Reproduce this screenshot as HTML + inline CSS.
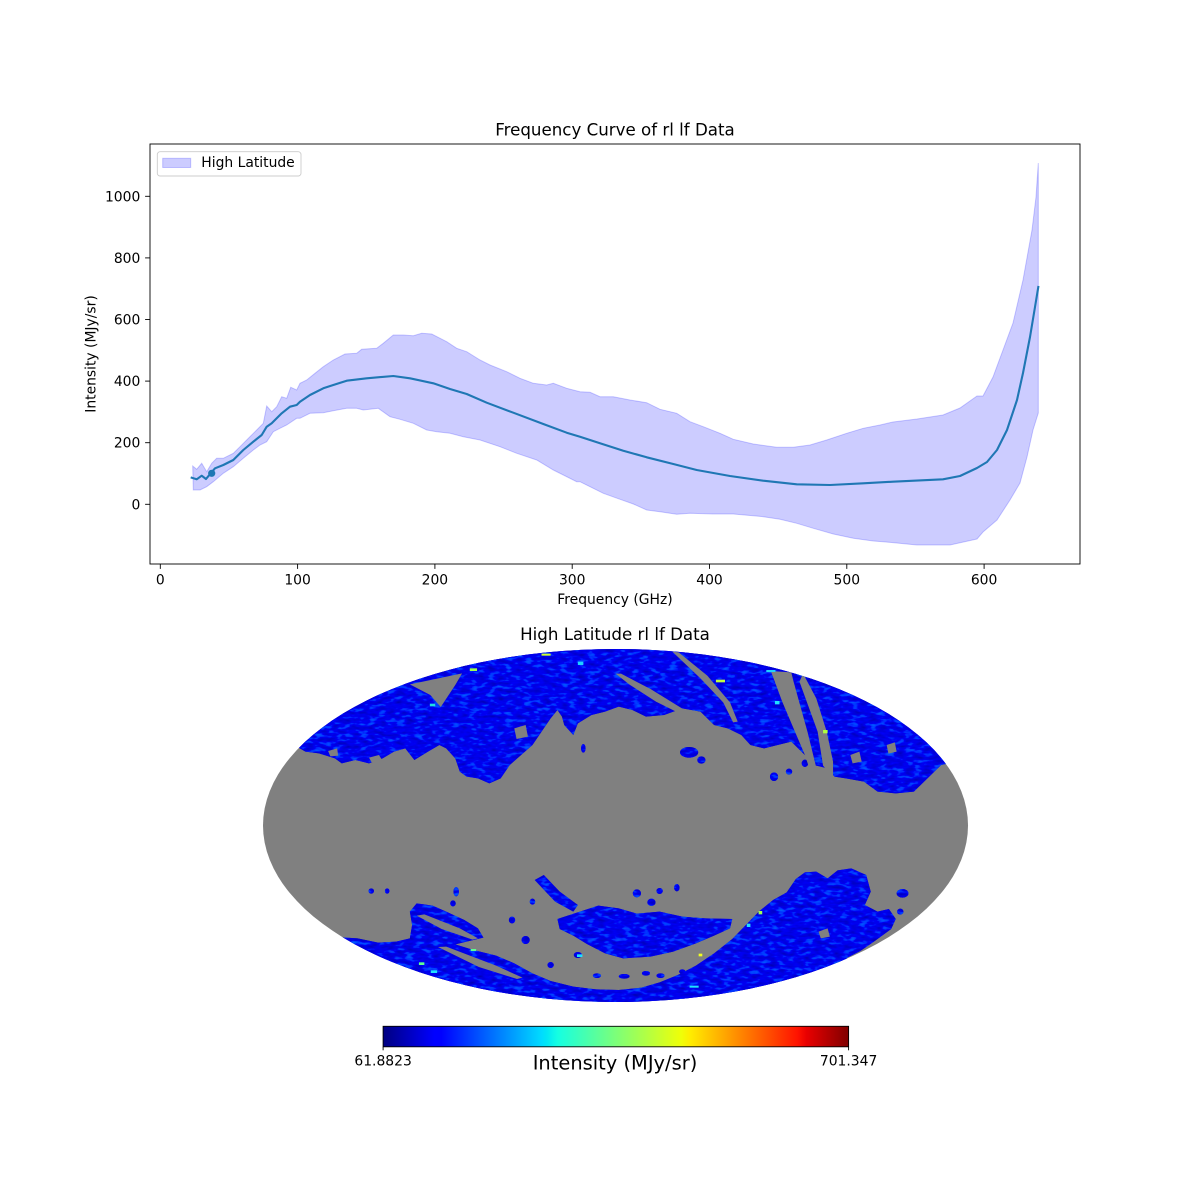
<!DOCTYPE html>
<html>
<head>
<meta charset="utf-8">
<style>
html,body{margin:0;padding:0;background:#fff;}
svg{display:block;}
text{font-family:"DejaVu Sans","Liberation Sans",sans-serif;fill:#000;}
</style>
</head>
<body>
<svg width="1200" height="1200" viewBox="0 0 1200 1200" xmlns="http://www.w3.org/2000/svg">
<defs>
  <linearGradient id="jet" x1="0" y1="0" x2="1" y2="0">
    <stop offset="0" stop-color="#000080"/>
    <stop offset="0.11" stop-color="#0000ff"/>
    <stop offset="0.125" stop-color="#0000ff"/>
    <stop offset="0.34" stop-color="#00dbff"/>
    <stop offset="0.35" stop-color="#00e5f6"/>
    <stop offset="0.375" stop-color="#15ffe2"/>
    <stop offset="0.5" stop-color="#7cff79"/>
    <stop offset="0.64" stop-color="#efff08"/>
    <stop offset="0.66" stop-color="#ffec00"/>
    <stop offset="0.89" stop-color="#ff1300"/>
    <stop offset="0.91" stop-color="#e80000"/>
    <stop offset="1" stop-color="#800000"/>
  </linearGradient>
</defs>

<!-- ===== Top chart ===== -->
<text x="615" y="135.7" font-size="16.67" text-anchor="middle">Frequency Curve of rl lf Data</text>

<path fill="rgba(0,0,255,0.2)" stroke="rgba(0,0,255,0.2)" stroke-width="1" d="M192.7,466 L196.7,469.3 L201.7,463.3 L206.7,471.7 L211.7,463.3 L216.7,458.3 L223.3,458.3 L233.3,453.3 L240,446.7 L246.7,440 L256.7,430 L263.3,423.3 L266.7,406 L271.7,411.7 L276.7,406.7 L281.7,396.7 L286.7,398.3 L290.7,387.3 L296.7,390 L300,383.3 L306.7,380 L315,373.3 L323.3,366.7 L333.3,360 L345,354 L356.7,353.3 L361.7,349.3 L376.7,348.3 L383.3,343.3 L393.3,335 L403.3,335 L413.3,335.7 L421.7,333.3 L431.7,334 L446.7,341.7 L456.7,348.3 L466.7,351.7 L480,360 L490,365 L506.7,371.7 L520,378.3 L533.3,383.3 L546.7,385 L553.3,383.3 L566.7,388.3 L580,391.7 L590,392.3 L600,396.7 L613.3,396.7 L630,400 L646.7,402.7 L660,409.3 L676.7,413.3 L690,421.7 L703.3,426.7 L720,433.3 L733.3,439.3 L753.3,444 L776.7,447.3 L793.3,447.3 L810,445 L826.7,440 L846.7,433.3 L863.3,428.3 L880,425 L893,422 L917,419 L943,415 L960,408 L977,396 L983,396 L993,377 L1003,350 L1013,323 L1023,280 L1032,230 L1036,197 L1038.3,163 L1038.3,413 L1033,430 L1027,457 L1020,483 L1010,500 L997,520 L983,532 L977,539 L950,545 L917,545 L883,541.7 L873.3,541 L853.3,538.3 L833.3,534 L813.3,528.3 L796.7,523.3 L780,519.3 L763.3,516.7 L733.3,514 L713.3,514 L690,513.3 L676.7,514.3 L660,511.7 L646.7,510 L633.3,504 L620,499.3 L603.3,493.3 L590,486.7 L580,481.7 L576.7,481.7 L553.3,470 L536.7,460 L516.7,453.3 L500,446.7 L480,440 L463.3,436.7 L450,433.3 L436.7,431.7 L426.7,430 L413.3,423.3 L400,419.3 L390,416.7 L378.3,408.3 L363.3,410 L356.7,408.3 L346.7,408.3 L333.3,410.7 L323.3,412.7 L310,413.3 L300,418.3 L296.7,418.3 L286.7,425 L280,428.3 L273.3,431.7 L266.7,441.7 L260,445 L253.3,450 L243.3,458.3 L233.3,466.7 L223.3,473.3 L213.3,481.7 L206.7,486.7 L200,490 L193.3,490 Z"/>

<polyline fill="none" stroke="#1f77b4" stroke-width="2.1" stroke-linejoin="round" stroke-linecap="square" points="191.7,477.7 196.7,479.3 201.7,475.7 206,479 210.7,473.3 215,468.3 223.3,465 233.3,460 243.3,450 253.3,441.7 261.7,435 266.7,426.7 271.7,423.3 276.7,418.3 281.7,413.3 290,406.7 296.7,405 300,401.7 310,395 323.3,388.3 333.3,385 346.7,380.7 366.7,378.3 393.3,376 410,378.3 433.3,383.3 450,389 466.7,394 486.7,402.7 513.3,412.7 543.3,424 566.7,432.7 580,436.7 600,443.3 623.3,450.7 646.7,457.3 673.3,464 696.7,470 730,476 763.3,480.7 796.7,484.3 830,485 863.3,483.3 893,481.7 943,479.3 960,476 977,468 987,462 997,450 1007,430 1017,400 1023,373 1030,337 1035,307 1038.3,287"/>
<circle cx="211.7" cy="473.3" r="3.6" fill="#1f77b4"/>

<rect x="150" y="144" width="930" height="420" fill="none" stroke="#000" stroke-width="0.9"/>

<g stroke="#000" stroke-width="0.9">
  <line x1="145.1" y1="504.3" x2="150" y2="504.3"/>
  <line x1="145.1" y1="442.7" x2="150" y2="442.7"/>
  <line x1="145.1" y1="381.1" x2="150" y2="381.1"/>
  <line x1="145.1" y1="319.5" x2="150" y2="319.5"/>
  <line x1="145.1" y1="257.9" x2="150" y2="257.9"/>
  <line x1="145.1" y1="196.3" x2="150" y2="196.3"/>
</g>
<g font-size="13.89" text-anchor="end">
  <text x="140.3" y="509.3">0</text>
  <text x="140.3" y="447.7">200</text>
  <text x="140.3" y="386.1">400</text>
  <text x="140.3" y="324.5">600</text>
  <text x="140.3" y="262.9">800</text>
  <text x="140.3" y="201.3">1000</text>
</g>

<g stroke="#000" stroke-width="0.9">
  <line x1="160.3" y1="564" x2="160.3" y2="568.9"/>
  <line x1="297.6" y1="564" x2="297.6" y2="568.9"/>
  <line x1="434.9" y1="564" x2="434.9" y2="568.9"/>
  <line x1="572.2" y1="564" x2="572.2" y2="568.9"/>
  <line x1="709.5" y1="564" x2="709.5" y2="568.9"/>
  <line x1="846.8" y1="564" x2="846.8" y2="568.9"/>
  <line x1="984.1" y1="564" x2="984.1" y2="568.9"/>
</g>
<g font-size="13.89" text-anchor="middle">
  <text x="160.3" y="584.5">0</text>
  <text x="297.6" y="584.5">100</text>
  <text x="434.9" y="584.5">200</text>
  <text x="572.2" y="584.5">300</text>
  <text x="709.5" y="584.5">400</text>
  <text x="846.8" y="584.5">500</text>
  <text x="984.1" y="584.5">600</text>
</g>

<text x="615" y="604" font-size="13.89" text-anchor="middle">Frequency (GHz)</text>
<text transform="translate(95.5,354) rotate(-90)" font-size="13.89" text-anchor="middle">Intensity (MJy/sr)</text>

<rect x="157.3" y="151.7" width="143.7" height="24.3" rx="2.8" ry="2.8" fill="rgba(255,255,255,0.8)" stroke="#cccccc" stroke-width="0.9"/>
<rect x="162.7" y="158.3" width="28" height="9.2" fill="rgba(0,0,255,0.2)" stroke="rgba(0,0,255,0.2)" stroke-width="1"/>
<text x="201.3" y="167.2" font-size="13.89">High Latitude</text>

<!-- ===== Map ===== -->
<text x="615" y="640" font-size="16.67" text-anchor="middle">High Latitude rl lf Data</text>

<g transform="translate(260,645) scale(0.454092,0.333333)">
  <defs>
    <filter id="nz" filterUnits="userSpaceOnUse" x="-20" y="-20" width="1620" height="1240">
      <feTurbulence type="fractalNoise" baseFrequency="0.05 0.09" numOctaves="2" seed="7"/>
      <feColorMatrix type="matrix" values="0 0 0 0 0  0.35 0 0 0 -0.2  1.0 0 0 0 0.35  0 0 0 0 1"/>
    </filter>
    <clipPath id="ell"><ellipse cx="782.9" cy="541.5" rx="776.3" ry="529.5"/></clipPath>
    <clipPath id="blue">
      <path d="M-20,-20 L1600,-20 L1600,330 L1500,360 L1470,400 L1440,440 L1400,445 L1360,440 L1330,410 L1290,400 L1265,395 L1250,370 L1220,360 L1200,330 L1170,290 L1140,300 L1110,310 L1080,300 L1060,270 L1030,250 L1000,240 L970,200 L930,190 L890,210 L850,215 L820,195 L790,185 L760,200 L730,210 L700,235 L690,270 L670,240 L665,215 L655,195 L640,220 L625,250 L600,300 L575,330 L550,360 L530,400 L505,415 L480,400 L455,395 L440,380 L430,340 L410,310 L395,300 L370,320 L340,345 L320,310 L295,320 L270,340 L240,355 L210,345 L180,355 L165,340 L130,325 L100,320 L75,300 L50,290 L-20,280 Z"/>
      <path d="M-20,860 L215,880 L260,893 L300,890 L330,880 L335,840 L330,800 L345,775 L380,782 L410,800 L450,825 L480,850 L492,878 L455,890 L430,898 L470,915 L520,932 L560,955 L600,985 L640,1008 L690,1025 L740,1033 L790,1035 L840,1028 L880,1012 L920,990 L960,962 L1000,925 L1040,882 L1070,840 L1100,798 L1130,765 L1160,742 L1180,702 L1200,682 L1225,680 L1250,700 L1272,676 L1302,670 L1335,690 L1345,740 L1332,780 L1360,800 L1385,792 L1400,822 L1390,852 L1352,890 L1322,918 L1290,940 L1600,950 L1600,1200 L-20,1200 Z"/>
      <path d="M655,822 L700,802 L745,782 L790,790 L830,806 L880,800 L930,815 L980,820 L1040,822 L1035,850 L1000,872 L960,895 L910,920 L860,935 L800,940 L760,925 L720,897 L690,872 L660,852 Z"/>
      <path d="M605,705 L625,690 L660,740 L700,780 L690,800 L650,770 Z"/>
      <path d="M1172,110 L1188,110 L1228,260 L1240,360 L1224,362 L1206,262 Z"/>
      <ellipse cx="245" cy="738" rx="6" ry="8"/>
      <ellipse cx="280" cy="738" rx="5" ry="8"/>
      <ellipse cx="432" cy="740" rx="6" ry="14"/>
      <ellipse cx="425" cy="775" rx="6" ry="9"/>
      <ellipse cx="555" cy="825" rx="7" ry="10"/>
      <ellipse cx="585" cy="885" rx="9" ry="12"/>
      <ellipse cx="600" cy="770" rx="6" ry="9"/>
      <ellipse cx="640" cy="960" rx="7" ry="9"/>
      <ellipse cx="700" cy="930" rx="9" ry="9"/>
      <ellipse cx="742" cy="992" rx="9" ry="7"/>
      <ellipse cx="802" cy="994" rx="12" ry="7"/>
      <ellipse cx="850" cy="985" rx="9" ry="7"/>
      <ellipse cx="882" cy="992" rx="9" ry="7"/>
      <ellipse cx="930" cy="980" rx="7" ry="7"/>
      <ellipse cx="830" cy="745" rx="9" ry="12"/>
      <ellipse cx="880" cy="738" rx="7" ry="9"/>
      <ellipse cx="918" cy="728" rx="6" ry="11"/>
      <ellipse cx="862" cy="772" rx="9" ry="11"/>
      <ellipse cx="1415" cy="745" rx="13" ry="13"/>
      <ellipse cx="945" cy="322" rx="20" ry="16"/>
      <ellipse cx="972" cy="345" rx="9" ry="11"/>
      <ellipse cx="712" cy="310" rx="5" ry="13"/>
      <ellipse cx="1132" cy="395" rx="9" ry="13"/>
      <ellipse cx="1165" cy="380" rx="7" ry="9"/>
      <ellipse cx="1200" cy="355" rx="7" ry="11"/>
      <ellipse cx="1222" cy="312" rx="6" ry="15"/>
      <ellipse cx="1252" cy="332" rx="6" ry="9"/>
      <ellipse cx="1190" cy="722" rx="7" ry="11"/>
      <ellipse cx="1410" cy="800" rx="7" ry="9"/>
    </clipPath>
  </defs>

  <ellipse cx="782.9" cy="541.5" rx="776.3" ry="529.5" fill="#808080"/>
  <g clip-path="url(#ell)">
    <g clip-path="url(#blue)">
      <rect x="-20" y="-20" width="1620" height="1240" fill="#0a10d8"/>
      <rect x="-20" y="-20" width="1620" height="1240" filter="url(#nz)"/>
    </g>
    <g fill="#808080">
      <path d="M330,118 L445,85 L430,120 L398,186 L375,150 Z"/>
      <path d="M783,86 L795,86 L860,132 L935,195 L950,215 L940,216 L872,170 L815,120 Z"/>
      <path d="M908,20 L922,22 L985,92 L1035,172 L1052,230 L1042,232 L1020,172 L970,100 Z"/>
      <path d="M1125,78 L1170,82 L1175,110 L1206,262 L1224,362 L1215,392 L1200,330 L1175,250 L1150,170 Z"/>
      <path d="M1188,110 L1196,86 L1225,160 L1248,260 L1262,350 L1262,398 L1240,362 L1228,260 Z"/>
      <path d="M345,812 L362,808 L440,850 L480,880 L468,884 L400,852 Z"/>
      <path d="M392,906 L410,905 L520,962 L578,998 L566,1002 L482,966 Z"/>
      <path d="M240,338 L262,330 L270,348 L246,352 Z"/>
      <path d="M150,318 L170,310 L172,332 L155,334 Z"/>
      <path d="M560,250 L585,240 L590,275 L565,282 Z"/>
      <path d="M1300,330 L1320,320 L1325,350 L1305,355 Z"/>
      <path d="M1380,300 L1398,292 L1402,320 L1384,326 Z"/>
      <path d="M1230,860 L1250,850 L1255,875 L1235,880 Z"/>
    </g>
    <g>
      <rect x="462" y="70" width="16" height="8" fill="#a0ff50"/>
      <rect x="374" y="176" width="12" height="8" fill="#20e0e0"/>
      <rect x="700" y="50" width="12" height="10" fill="#20d0ff"/>
      <rect x="620" y="26" width="20" height="6" fill="#d0ff30"/>
      <rect x="1004" y="104" width="20" height="8" fill="#c0ff40"/>
      <rect x="1134" y="168" width="10" height="10" fill="#20e0ff"/>
      <rect x="1240" y="255" width="10" height="10" fill="#b0ff40"/>
      <rect x="1098" y="798" width="8" height="10" fill="#a0ff50"/>
      <rect x="1072" y="836" width="8" height="10" fill="#20e0ff"/>
      <rect x="966" y="926" width="8" height="8" fill="#f0ff20"/>
      <rect x="698" y="928" width="12" height="8" fill="#20e0ff"/>
      <rect x="376" y="976" width="14" height="8" fill="#20e0ff"/>
      <rect x="350" y="952" width="12" height="8" fill="#60ff90"/>
      <rect x="464" y="912" width="12" height="6" fill="#60ff90"/>
      <rect x="946" y="1022" width="20" height="6" fill="#20e0ff"/>
      <rect x="1115" y="75" width="20" height="6" fill="#20d0ff"/>
    </g>
  </g>
</g>

<rect x="383.1" y="1026.3" width="465.5" height="20.5" fill="url(#jet)" stroke="#000" stroke-width="0.9"/>
<line x1="383.1" y1="1046.8" x2="383.1" y2="1050.3" stroke="#000" stroke-width="0.9"/>
<line x1="848.6" y1="1046.8" x2="848.6" y2="1050.3" stroke="#000" stroke-width="0.9"/>
<text x="383.1" y="1065.5" font-size="13.89" text-anchor="middle">61.8823</text>
<text x="848.6" y="1065.5" font-size="13.89" text-anchor="middle">701.347</text>
<text x="615" y="1069.5" font-size="19.44" text-anchor="middle">Intensity (MJy/sr)</text>
</svg>
</body>
</html>
